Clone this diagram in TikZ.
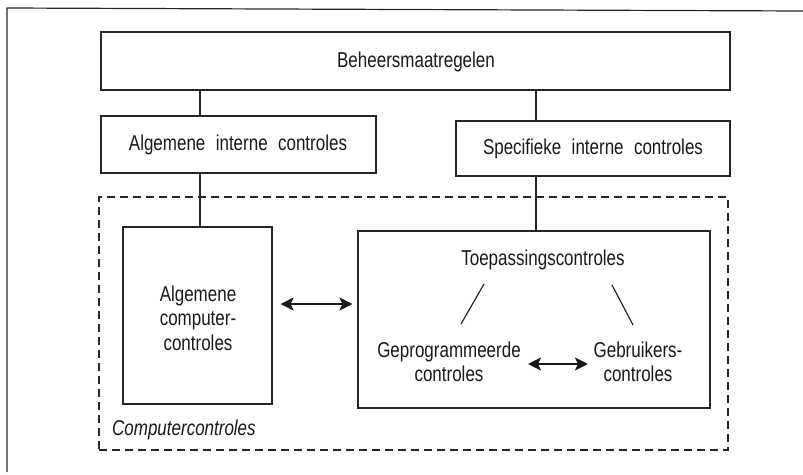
\documentclass[tikz,border=0pt]{standalone}
\usepackage{fontspec}
\setmainfont[FakeStretch=0.79,WordSpace=2.2]{Liberation Sans}
\usetikzlibrary{arrows.meta}
\begin{document}
\begin{tikzpicture}[x=1pt,y=-1pt,
  box/.style={draw=black!85,line width=1.2pt,inner sep=0pt},
  lbl/.style={font=\fontsize{21.5}{24.5}\selectfont,text=black!90,inner sep=0pt,align=center},
  conn/.style={draw=black!85,line width=1.2pt},
  dbl/.style={line width=2.7pt,black!90,{Stealth[length=13pt,width=13pt,inset=3pt]}-{Stealth[length=13pt,width=13pt,inset=3pt]}}]
\useasboundingbox (0,0) rectangle (803,474);
% outer frame (top and left edges)
\draw[conn] (803,11) -- (7,8) -- (7,472);
% dashed container
\node[box,dashed,dash pattern=on 8pt off 5pt,minimum width=629pt,minimum height=253pt] (cc) at (413.5,323.5) {};
\node[lbl,font=\fontsize{21.5}{24.5}\selectfont\itshape,anchor=west] (cclab) at (112,430) {Computercontroles};
% boxes
\node[box,minimum width=629pt,minimum height=58pt] (beh) at (415.5,61) {};
\node[lbl] (behl) at (416,62) {Beheersmaatregelen};
\node[box,minimum width=275pt,minimum height=57pt] (alg) at (238.5,144.5) {};
\node[lbl] (algl) at (238,145) {Algemene interne controles};
\node[box,minimum width=274pt,minimum height=55pt] (spe) at (593,148.5) {};
\node[lbl] (spel) at (593,149) {Specifieke interne controles};
\node[box,minimum width=149pt,minimum height=177pt] (comp) at (197.5,315.5) {};
\node[lbl] (compl) at (198,318) {Algemene\\computer-\\controles};
\node[box,minimum width=352pt,minimum height=177pt] (toe) at (534,319.5) {};
\node[lbl] (toep) at (543,260) {Toepassingscontroles};
\node[lbl] (gep) at (449,362) {Geprogrammeerde\\controles};
\node[lbl] (geb) at (638,362) {Gebruikers-\\controles};
% vertical connectors
\coordinate (lc) at (200,0);
\coordinate (rc) at (536,0);
\draw[conn] (beh.south -| lc) -- (alg.north -| lc);
\draw[conn] (alg.south -| lc) -- (comp.north -| lc);
\draw[conn] (beh.south -| rc) -- (spe.north -| rc);
\draw[conn] (spe.south -| rc) -- (toe.north -| rc);
% diagonal lines
\draw[conn] ([shift={(-59,24)}]toep.center) -- ([shift={(-82,64)}]toep.center);
\draw[conn] ([shift={(69,25)}]toep.center) -- ([shift={(90,65)}]toep.center);
% double arrows
\draw[dbl] ([shift={(8,-11.5)}]comp.east) -- ([shift={(-5,-15.5)}]toe.west);
\draw[dbl] ([shift={(79,2)}]gep.center) -- ([shift={(-50,2)}]geb.center);
\end{tikzpicture}
\end{document}
